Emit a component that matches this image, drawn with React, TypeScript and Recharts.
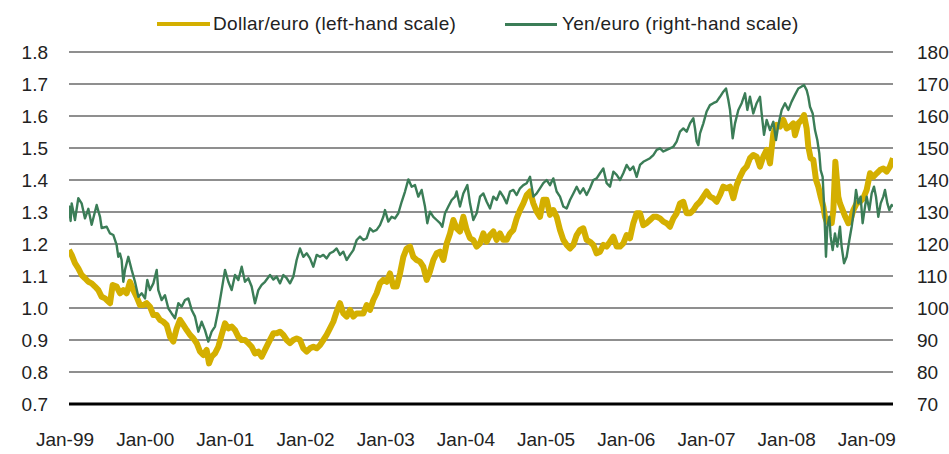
import React from "react";
import { LineChart, Line, XAxis, YAxis, CartesianGrid } from "recharts";

// x position of each reading, in months from the start of the series (Jan 1999)
const usdMonths = [
  0, 0.42, 0.93, 1.45, 1.97, 2.49, 3.01, 3.53, 4.05, 4.57, 5.09, 5.61, 6.13, 6.39, 6.8, 7.42, 7.94, 8.46, 8.98, 9.5,
  10.02, 10.54, 11.06, 11.58, 12.1, 12.62, 13.14, 13.66, 14.17, 14.69, 15.21, 15.73, 16.25, 16.77, 17.29, 17.81, 18.33, 18.85, 19.37, 19.89,
  20.4, 20.92, 21.44, 21.81, 22.22, 22.74, 23.26, 23.78, 24.3, 24.82, 25.34, 25.86, 26.38, 26.9, 27.41, 27.93, 28.45, 28.97, 29.49, 30.01,
  30.53, 31.05, 31.83, 32.35, 32.87, 33.39, 33.91, 34.42, 34.94, 35.46, 35.98, 36.5, 37.02, 37.54, 38.06, 38.58, 39.1, 39.62, 40.13, 40.65,
  41.17, 41.69, 42.21, 42.73, 43.25, 43.77, 44.29, 44.81, 45.33, 45.85, 46.37, 46.88, 47.4, 47.92, 48.44, 48.96, 49.48, 50.0, 50.52, 51.04,
  51.56, 52.08, 52.6, 53.12, 53.63, 54.15, 54.67, 55.19, 55.71, 56.23, 56.75, 57.27, 57.79, 58.31, 58.83, 59.35, 59.87, 60.38, 60.9, 61.42,
  61.94, 62.46, 62.98, 63.5, 64.02, 64.54, 65.06, 65.58, 66.1, 66.61, 67.13, 67.65, 68.17, 68.69, 69.21, 69.73, 70.25, 70.77, 71.29, 71.81,
  72.33, 72.85, 73.36, 73.88, 74.4, 74.92, 75.44, 75.96, 76.48, 77.0, 77.52, 78.04, 78.56, 79.08, 79.6, 80.11, 80.63, 81.15, 81.67, 82.19,
  82.71, 83.23, 83.75, 84.27, 84.79, 85.31, 85.83, 86.34, 86.86, 87.38, 87.9, 88.42, 88.94, 89.46, 89.98, 90.5, 91.02, 91.54, 92.06, 92.58,
  93.09, 93.61, 94.13, 94.65, 95.17, 95.69, 96.21, 96.73, 97.25, 97.77, 98.29, 98.81, 99.32, 99.84, 100.36, 100.88, 101.4, 101.92, 102.44, 102.96,
  103.48, 104.0, 104.52, 105.04, 105.56, 106.07, 106.59, 107.11, 107.63, 108.15, 108.67, 109.19, 109.71, 110.23, 110.75, 111.27, 111.79, 112.31, 112.82, 113.08,
  113.6, 114.12, 114.49, 114.9, 115.16, 115.52, 115.94, 116.36, 116.72, 117.08, 117.5, 117.76, 118.02, 118.43, 118.8, 119.06, 119.37, 119.57, 119.83, 120.09,
  120.51, 120.92, 121.39, 121.75, 122.17, 122.69, 123.21, 123.73, 124.25, 124.77, 125.29, 125.81, 126.32, 126.84, 127.36, 127.88, 128.35,
];

// Dollar per euro (left-hand scale)
const usdValues = [
  1.181, 1.166, 1.14, 1.124, 1.103, 1.093, 1.082, 1.077, 1.067, 1.056, 1.035, 1.03, 1.02, 1.015, 1.072, 1.067, 1.046, 1.056, 1.046, 1.082,
  1.056, 1.035, 1.009, 1.009, 1.015, 1.004, 0.978, 0.978, 0.963, 0.957, 0.947, 0.91, 0.895, 0.936, 0.963, 0.947, 0.931, 0.916, 0.905, 0.89,
  0.864, 0.853, 0.869, 0.827, 0.848, 0.858, 0.879, 0.916, 0.952, 0.936, 0.942, 0.931, 0.91, 0.9, 0.9, 0.89, 0.879, 0.858, 0.864, 0.848,
  0.869, 0.89, 0.921, 0.921, 0.926, 0.916, 0.9, 0.89, 0.9, 0.905, 0.9, 0.874, 0.864, 0.874, 0.879, 0.874, 0.884, 0.9, 0.916, 0.936,
  0.957, 0.989, 1.015, 0.983, 0.973, 0.994, 0.973, 0.983, 0.983, 0.983, 1.009, 0.994, 1.025, 1.046, 1.077, 1.088, 1.082, 1.108, 1.067, 1.067,
  1.108, 1.16, 1.186, 1.192, 1.16, 1.15, 1.145, 1.129, 1.088, 1.114, 1.15, 1.171, 1.176, 1.15, 1.202, 1.233, 1.275, 1.249, 1.239, 1.285,
  1.244, 1.218, 1.212, 1.192, 1.202, 1.233, 1.207, 1.228, 1.239, 1.213, 1.233, 1.213, 1.213, 1.233, 1.244, 1.28, 1.306, 1.327, 1.353, 1.364,
  1.327, 1.301, 1.285, 1.338, 1.338, 1.291, 1.306, 1.285, 1.244, 1.213, 1.197, 1.186, 1.197, 1.228, 1.244, 1.249, 1.213, 1.207, 1.197, 1.171,
  1.176, 1.197, 1.192, 1.207, 1.223, 1.192, 1.192, 1.202, 1.228, 1.218, 1.265, 1.296, 1.296, 1.259, 1.265, 1.275, 1.285, 1.285, 1.28, 1.27,
  1.265, 1.254, 1.28, 1.296, 1.327, 1.332, 1.296, 1.296, 1.306, 1.322, 1.332, 1.348, 1.364, 1.348, 1.343, 1.332, 1.353, 1.379, 1.374, 1.379,
  1.343, 1.384, 1.41, 1.431, 1.442, 1.468, 1.478, 1.473, 1.442, 1.473, 1.494, 1.452, 1.546, 1.572, 1.567, 1.588, 1.561, 1.567, 1.577, 1.54,
  1.577, 1.588, 1.603, 1.561, 1.504, 1.468, 1.463, 1.4, 1.379, 1.348, 1.317, 1.285, 1.27, 1.275, 1.265, 1.306, 1.457, 1.41, 1.348, 1.327,
  1.306, 1.285, 1.265, 1.275, 1.306, 1.327, 1.332, 1.343, 1.369, 1.421, 1.41, 1.421, 1.431, 1.436, 1.426, 1.442, 1.468,
];

const jpyMonths = [
  0, 0.25, 0.42, 0.93, 1.45, 1.97, 2.49, 3.01, 3.53, 4.31, 4.83, 5.09, 5.87, 6.39, 6.91, 7.42, 7.68, 7.94, 8.2, 8.46,
  8.72, 9.24, 9.76, 10.28, 10.8, 11.32, 11.84, 12.2, 12.62, 13.14, 13.66, 13.91, 14.43, 14.95, 15.47, 15.99, 16.51, 17.03, 17.55, 18.07,
  18.59, 19.11, 19.63, 20.15, 20.66, 21.18, 21.7, 22.22, 22.74, 23.26, 23.78, 24.3, 24.82, 25.34, 25.86, 26.38, 26.9, 27.41, 27.93, 28.45,
  28.97, 29.49, 30.01, 30.53, 31.31, 31.83, 32.35, 32.87, 33.39, 33.91, 34.42, 34.94, 35.46, 35.98, 36.5, 37.02, 37.54, 38.06, 38.58, 39.1,
  39.62, 40.13, 40.65, 41.17, 41.69, 42.21, 42.73, 43.25, 43.77, 44.29, 44.81, 45.33, 45.85, 46.37, 46.88, 47.4, 47.92, 48.44, 48.96, 49.22,
  49.74, 50.26, 50.78, 51.3, 51.82, 52.34, 52.86, 53.38, 53.89, 54.41, 54.93, 55.45, 55.81, 56.23, 56.75, 57.27, 57.79, 58.15, 58.57, 59.09,
  59.61, 60.13, 60.38, 60.9, 61.42, 62.05, 62.46, 62.98, 63.5, 64.02, 64.54, 65.06, 65.58, 66.1, 66.61, 67.13, 67.65, 68.17, 68.69, 69.21,
  69.73, 70.25, 70.77, 71.29, 71.81, 72.33, 72.85, 73.36, 73.88, 74.4, 74.92, 75.44, 75.96, 76.48, 77.0, 77.52, 78.04, 78.56, 79.08, 79.6,
  80.11, 80.63, 81.15, 81.67, 82.19, 82.71, 83.23, 83.75, 84.27, 84.79, 85.31, 85.83, 86.34, 86.86, 87.38, 87.9, 88.42, 88.94, 89.46, 89.98,
  90.5, 91.02, 91.54, 92.06, 92.58, 93.09, 93.61, 94.13, 94.65, 95.17, 95.69, 96.21, 96.73, 97.25, 97.51, 97.77, 98.03, 98.29, 98.81, 99.32,
  99.84, 100.36, 100.88, 101.4, 101.92, 102.34, 102.7, 102.96, 103.38, 103.74, 104.26, 104.78, 105.3, 105.66, 106.07, 106.59, 107.11, 107.63, 107.89, 108.26,
  108.67, 109.19, 109.71, 110.12, 110.49, 111.01, 111.53, 112.05, 112.56, 113.08, 113.6, 114.12, 114.49, 114.9, 115.16, 115.42, 115.84, 116.2, 116.56, 116.87,
  117.08, 117.39, 117.6, 117.76, 117.91, 118.12, 118.43, 118.64, 118.95, 119.31, 119.68, 120.09, 120.35, 120.72, 121.13, 121.55, 121.91, 122.27, 122.59, 122.95,
  123.31, 123.62, 123.99, 124.25, 124.66, 125.03, 125.39, 125.7, 126.06, 126.43, 126.84, 127.1, 127.47, 127.78, 128.14, 128.35,
];

// Yen per euro (right-hand scale)
const jpyValues = [
  132, 127.2, 132.7, 127.5, 134.3, 132.7, 128, 131, 126, 132.2, 128.5, 125, 125.4, 123.3, 122.8, 119.7, 116, 117, 115, 108.2,
  111.9, 116, 111.9, 108.2, 103.5, 104.6, 103, 108.75, 105.6, 107.7, 111.9, 105.6, 102.5, 104, 99.9, 98.3, 96.8, 101.5, 100.4, 102.5,
  103, 99.4, 97.3, 92.6, 95.7, 93.1, 89.5, 92.6, 94.2, 99.4, 105.6, 111.9, 108.2, 105.6, 110.3, 108.75, 112.9, 108.2, 109.3, 106.7,
  101.5, 105.6, 107.2, 108.2, 110.3, 108.9, 109.8, 107.7, 110.3, 109.3, 107.7, 109.8, 115, 118.6, 116, 117.1, 115.5, 112.9, 116.6, 116,
  116.6, 115.5, 117.1, 117.6, 118.6, 116.6, 117.6, 115, 116.6, 118.1, 121.25, 122.3, 121.25, 121.8, 124.9, 123.9, 124.4, 125.9, 128.5, 130.6,
  127, 128.5, 128, 129.6, 133.2, 136.4, 140.2, 137.9, 138.4, 134.8, 136.9, 131.7, 126.5, 130.1, 128.5, 127.5, 126.5, 125.4, 129.6, 131.7,
  133.75, 134.8, 136.4, 131.7, 135.8, 138.4, 132.7, 127.5, 129.6, 134.8, 135.8, 133.2, 131.1, 134.8, 133.75, 136.4, 134.8, 132.7, 136.4, 136.9,
  135.3, 137.4, 138.4, 139, 141, 134.8, 135.8, 137.4, 139, 140, 138.4, 140.5, 136.4, 134.8, 131.7, 131.1, 133.75, 135.8, 137.9, 135.8,
  137.4, 135.3, 137.4, 140, 140.5, 142.1, 143.6, 139, 137.9, 142.6, 141.6, 140, 142.1, 144.7, 143.1, 144.2, 141, 144.7, 145.7, 146.25,
  146.8, 147.8, 149.4, 149.9, 148.9, 149.4, 149.9, 150.4, 152, 155.1, 156.1, 155.1, 157.7, 159.3, 156.1, 152, 150.9, 154.6, 157.7, 161.4,
  163.4, 164, 164.5, 166, 167.6, 168.6, 165, 161.9, 153, 157.7, 161.9, 164, 167.1, 161.9, 166, 160.8, 164, 166, 160.8, 154.1,
  158.75, 155.6, 158.2, 152.5, 157.2, 161.9, 164, 161.9, 164.5, 166.6, 168.6, 169.2, 169.7, 168.1, 166, 162.9, 160.8, 155.6, 152.5, 148.3,
  143.1, 141, 132.7, 124.4, 116, 125.4, 128.5, 122.3, 118.1, 123.3, 119.2, 125.4, 119.2, 114, 116, 121.25, 125.4, 130.6, 136.9, 132.7,
  134.8, 126.5, 131.7, 134.8, 130.6, 135.8, 137.9, 134.8, 128.5, 132.7, 134.8, 136.9, 132.7, 130.6, 132.2, 131.7,
];

const xLabels = ["Jan-99", "Jan-00", "Jan-01", "Jan-02", "Jan-03", "Jan-04", "Jan-05", "Jan-06", "Jan-07", "Jan-08", "Jan-09"];
const xLabelPos = [0, 12.49, 24.98, 37.47, 49.96, 62.45, 74.94, 87.43, 99.92, 112.41, 124.9];
const leftTicks = [0.7, 0.8, 0.9, 1.0, 1.1, 1.2, 1.3, 1.4, 1.5, 1.6, 1.7, 1.8];
const rightTicks = [70, 80, 90, 100, 110, 120, 130, 140, 150, 160, 170, 180];

const usdData = usdMonths.map((m, i) => ({ m, v: usdValues[i] }));
const jpyData = jpyMonths.map((m, i) => ({ m, v: jpyValues[i] }));

const YELLOW = "#D4AF00";
const GREEN = "#3B7D57";
const TEXT = "#222";
const FONT = "'Liberation Sans', Arial, sans-serif";

const XTick = (props: any) => {
  const { x, y, index } = props;
  return (
    <text x={x - 4} y={y} dy="0.71em" textAnchor="middle" fill={TEXT} fontSize={19} fontFamily={FONT}>
      {xLabels[index]}
    </text>
  );
};

export default function App() {
  return (
    <div style={{ position: "absolute", left: 0, top: 0, width: 949, height: 454, background: "#fff", fontFamily: FONT }}>
      <LineChart width={949} height={454} margin={{ top: 52, right: 0, bottom: 0, left: 0 }}>
        <CartesianGrid yAxisId="left" horizontal vertical={false} stroke="#6a6a6a" strokeWidth={1.3} />
        <XAxis
          dataKey="m"
          type="number"
          domain={[0, 128.35]}
          allowDataOverflow
          ticks={xLabelPos}
          interval={0}
          height={50}
          tickSize={0}
          tickMargin={29}
          tickLine={false}
          axisLine={{ stroke: "#000", strokeWidth: 3 }}
          tick={<XTick />}
        />
        <YAxis
          yAxisId="left"
          domain={[0.7, 1.8]}
          ticks={leftTicks}
          interval={0}
          width={69}
          tickSize={0}
          tickMargin={21}
          axisLine={false}
          tickLine={false}
          tickFormatter={(v: number) => v.toFixed(1)}
          tick={{ fill: TEXT, fontSize: 19, fontFamily: FONT }}
        />
        <YAxis
          yAxisId="right"
          orientation="right"
          domain={[70, 180]}
          ticks={rightTicks}
          interval={0}
          width={56}
          tickSize={0}
          tickMargin={24}
          axisLine={false}
          tickLine={false}
          tick={{ fill: TEXT, fontSize: 19, fontFamily: FONT, textAnchor: "start" }}
        />
        <Line
          yAxisId="left"
          data={usdData}
          dataKey="v"
          type="linear"
          stroke={YELLOW}
          strokeWidth={6}
          dot={false}
          activeDot={false}
          strokeLinejoin="round"
          isAnimationActive={false}
        />
        <Line
          yAxisId="right"
          data={jpyData}
          dataKey="v"
          type="linear"
          stroke={GREEN}
          strokeWidth={2.4}
          dot={false}
          activeDot={false}
          strokeLinejoin="round"
          isAnimationActive={false}
        />
      </LineChart>
      <div style={{ position: "absolute", left: 157, top: 14, display: "flex", alignItems: "center", fontSize: 19, lineHeight: "20px", color: TEXT, whiteSpace: "nowrap", letterSpacing: 0.3 }}>
        <span style={{ display: "inline-block", width: 53, height: 4, background: YELLOW, marginRight: 3 }} />
        <span>Dollar/euro (left-hand scale)</span>
      </div>
      <div style={{ position: "absolute", left: 505, top: 14, display: "flex", alignItems: "center", fontSize: 19, lineHeight: "20px", color: TEXT, whiteSpace: "nowrap", letterSpacing: 0.3 }}>
        <span style={{ display: "inline-block", width: 52, height: 3, background: GREEN, marginRight: 5 }} />
        <span>Yen/euro (right-hand scale)</span>
      </div>
    </div>
  );
}
